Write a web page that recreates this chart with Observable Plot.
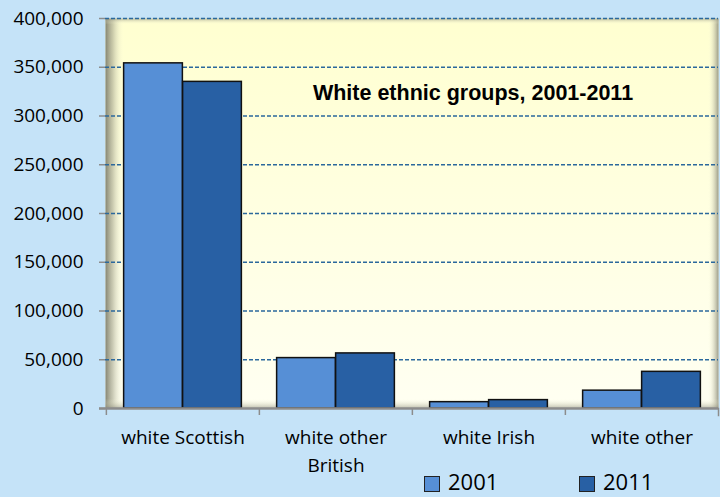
<!DOCTYPE html>
<html>
<head>
<meta charset="utf-8">
<script src="https://cdn.jsdelivr.net/npm/d3@7"></script>
<script src="https://cdn.jsdelivr.net/npm/@observablehq/plot@0.6"></script>
<style>
  html, body { margin: 0; padding: 0; background: #C5E3F8; }
  #wrap { position: relative; width: 720px; height: 497px; background: #C5E3F8; }
  #legend { position: absolute; top: 467px; left: 0; width: 720px; height: 28px; font-family: "Open Sans", sans-serif; font-size: 22px; line-height: 28px; color: #000; }
  .item { position: absolute; display: flex; align-items: flex-start; }
  .sw { width: 14px; height: 14px; border: 1.5px solid #222; margin-top: 9px; margin-right: 8px; }
</style>
</head>
<body>
<div id="wrap"><div id="chart"></div><div id="legend"></div></div>
<script>
const categories = ["white Scottish", "white other British", "white Irish", "white other"];
const tickLabels = ["white Scottish", "white other\nBritish", "white Irish", "white other"];
const years = ["2001", "2011"];
const values2001 = [354000, 51700, 6500, 18300];
const values2011 = [335000, 56500, 8600, 37600];
const yTicks = [0, 50000, 100000, 150000, 200000, 250000, 300000, 350000, 400000];
const titleText = "White ethnic groups, 2001-2011";
const colors = ["#568FD6", "#2860A4"];

const W = 720, H = 467, ML = 105, MR = 2, MT = 18, MB = 59;
const bw = (W - ML - MR) / categories.length;
const pad = bw * 0.115, half = bw / 2;
const plotH = H - MT - MB;

const d2001 = categories.map((c, i) => ({category: c, value: values2001[i]}));
const d2011 = categories.map((c, i) => ({category: c, value: values2011[i]}));

const chart = Plot.plot({
  width: W, height: H,
  marginLeft: ML, marginRight: MR, marginTop: MT, marginBottom: MB,
  style: {fontFamily: "'Open Sans', sans-serif", fontSize: "19px", color: "#000", background: "transparent", overflow: "visible"},
  x: {domain: categories, padding: 0, label: null},
  y: {domain: [0, 400000], label: null},
  marks: [
    Plot.frame({fill: "url(#bgGrad)", stroke: "none"}),
    Plot.frame({fill: "url(#shadowH)", stroke: "none"}),
    Plot.frame({fill: "url(#shadowV)", stroke: "none"}),
    Plot.gridY(yTicks.filter(d => d > 0), {stroke: "#2B689C", strokeOpacity: 1, strokeWidth: 1.3, strokeDasharray: "4,2"}),
    Plot.barY(d2001, {x: "category", y: "value", fill: colors[0], stroke: "#111", strokeWidth: 1.5, insetLeft: pad, insetRight: half}),
    Plot.barY(d2011, {x: "category", y: "value", fill: colors[1], stroke: "#111", strokeWidth: 1.5, insetLeft: half, insetRight: pad}),
    Plot.ruleY([0], {stroke: "#8C8C8C", strokeWidth: 2.5, insetLeft: -6}),
    Plot.axisY({ticks: yTicks, tickFormat: d3.format(","), tickSize: 6, tickPadding: 16, stroke: "#8C8C8C", strokeWidth: 1.5, fontSize: 19, label: null}),
    Plot.axisX({tickSize: 0, tickPadding: 16, tickFormat: d => tickLabels[categories.indexOf(d)], fontSize: 19, lineHeight: 1.45, label: null}),
    Plot.axisX({tickSize: 7, tickFormat: () => "", dx: -half, stroke: "#8C8C8C", strokeWidth: 1.5, label: null}),
    Plot.frame({anchor: "right", insetTop: plotH, insetBottom: -7, stroke: "#8C8C8C", strokeWidth: 1.5}),
    Plot.text([titleText], {text: d => d, frameAnchor: "top", dx: 61, dy: 66, lineAnchor: "top", fontWeight: "bold", fontSize: 21.5, fontFamily: "'Liberation Sans', Arial, sans-serif", fill: "#000"})
  ]
});

chart.insertAdjacentHTML("afterbegin", `
<defs>
  <linearGradient id="bgGrad" x1="0" y1="0" x2="0" y2="1">
    <stop offset="0" stop-color="#FFFFD0"/>
    <stop offset="1" stop-color="#FFFFF2"/>
  </linearGradient>
  <linearGradient id="shadowH" x1="0" y1="0" x2="1" y2="0">
    <stop offset="0" stop-color="#7F7F6E" stop-opacity="0.95"/>
    <stop offset="0.012" stop-color="#A8A890" stop-opacity="0.6"/>
    <stop offset="0.03" stop-color="#FFFFE0" stop-opacity="0"/>
    <stop offset="0.983" stop-color="#FFFFE0" stop-opacity="0"/>
    <stop offset="1" stop-color="#8A8A78" stop-opacity="0.85"/>
  </linearGradient>
  <linearGradient id="shadowV" x1="0" y1="0" x2="0" y2="1">
    <stop offset="0" stop-color="#8A8A78" stop-opacity="0.6"/>
    <stop offset="0.015" stop-color="#FFFFE0" stop-opacity="0"/>
    <stop offset="0.975" stop-color="#FFFFE0" stop-opacity="0"/>
    <stop offset="1" stop-color="#8A8A78" stop-opacity="0.6"/>
  </linearGradient>
</defs>`);

document.getElementById("chart").appendChild(chart);

const legend = document.getElementById("legend");
const legendLeft = [424, 579];
years.forEach((y, i) => {
  const item = document.createElement("div");
  item.className = "item";
  item.style.left = legendLeft[i] + "px";
  const sw = document.createElement("div");
  sw.className = "sw";
  sw.style.background = colors[i];
  const t = document.createElement("span");
  t.textContent = y;
  item.appendChild(sw);
  item.appendChild(t);
  legend.appendChild(item);
});
</script>
</body>
</html>
